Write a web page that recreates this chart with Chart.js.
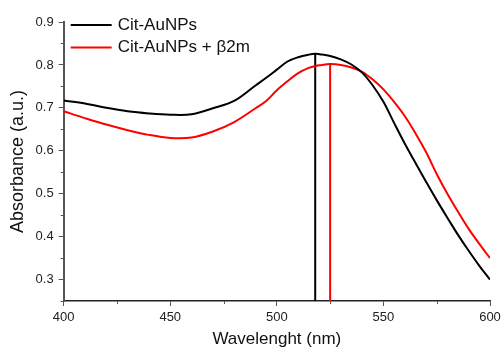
<!DOCTYPE html>
<html>
<head>
<meta charset="utf-8">
<script src="https://cdn.jsdelivr.net/npm/chart.js@4.4.1/dist/chart.umd.min.js"></script>
<style>
  html, body { margin: 0; padding: 0; background: #fff; }
  #wrap { position: relative; width: 502px; height: 350px; }
</style>
</head>
<body>
<div id="wrap"><canvas id="c" width="502" height="350"></canvas></div>
<script>
const wavelengths = [400,410,420,430,440,450,460,470,480,490,495,500,505,510,515,518,520,525,530,535,540,545,550,555,560,565,570,575,580,585,590,595,600];
const citAuNPs =    [0.717,0.710,0.700,0.692,0.687,0.684,0.685,0.699,0.716,0.752,0.770,0.789,0.808,0.818,0.824,0.826,0.825,0.821,0.813,0.801,0.782,0.752,0.714,0.665,0.617,0.572,0.528,0.485,0.444,0.404,0.367,0.332,0.300];
const citAuNPsB2m = [0.692,0.676,0.661,0.648,0.637,0.630,0.631,0.645,0.667,0.699,0.716,0.741,0.762,0.781,0.793,0.797,0.799,0.802,0.800,0.794,0.784,0.766,0.743,0.714,0.681,0.641,0.597,0.546,0.500,0.458,0.418,0.383,0.350];
const seriesLabels = ['Cit-AuNPs', 'Cit-AuNPs + \u03B22m'];
const peakWavelengths = [518, 525];
const peakValues = [0.826, 0.802];
const xTicks = [400,450,500,550,600];
const yTicks = [0.3,0.4,0.5,0.6,0.7,0.8,0.9];
const xMinor = [425,475,525,575];
const yMinor = [0.25,0.35,0.45,0.55,0.65,0.75,0.85];
const yMin = 0.25, yMax = 0.9;
const colors = ['#000000', '#ff0000'];

const FONT = '"Liberation Sans", Arial, sans-serif';

function toXY(xs, ys) { return xs.map((x, i) => ({x: x, y: ys[i]})); }

const datasets = [
  { label: seriesLabels[0], data: toXY(wavelengths, citAuNPs), borderColor: colors[0], borderWidth: 2, pointRadius: 0, tension: 0.35, fill: false },
  { label: seriesLabels[1], data: toXY(wavelengths, citAuNPsB2m), borderColor: colors[1], borderWidth: 2, pointRadius: 0, tension: 0.35, fill: false },
  { label: '_peak0', data: [{x: peakWavelengths[0], y: yMin}, {x: peakWavelengths[0], y: peakValues[0]}], borderColor: colors[0], borderWidth: 2, pointRadius: 0, fill: false },
  { label: '_peak1', data: [{x: peakWavelengths[1], y: yMin}, {x: peakWavelengths[1], y: peakValues[1]}], borderColor: colors[1], borderWidth: 2, pointRadius: 0, fill: false }
];

const minorTicks = {
  id: 'minorTicks',
  afterDraw(chart) {
    const ctx = chart.ctx;
    const xs = chart.scales.x, ys = chart.scales.y;
    ctx.save();
    ctx.strokeStyle = '#555';
    ctx.lineWidth = 1;
    xMinor.forEach(v => {
      const px = Math.round(xs.getPixelForValue(v)) + 0.5;
      ctx.beginPath(); ctx.moveTo(px, xs.top); ctx.lineTo(px, xs.top + 3); ctx.stroke();
    });
    yMinor.forEach(v => {
      const py = Math.round(ys.getPixelForValue(v)) + 0.5;
      ctx.beginPath(); ctx.moveTo(ys.right, py); ctx.lineTo(ys.right - 3, py); ctx.stroke();
    });
    ctx.restore();
  }
};

const innerLegend = {
  id: 'innerLegend',
  afterDraw(chart) {
    const ctx = chart.ctx;
    const area = chart.chartArea;
    ctx.save();
    ctx.font = '17px ' + FONT;
    ctx.textBaseline = 'middle';
    ctx.textAlign = 'left';
    [0, 1].forEach(i => {
      const ds = chart.data.datasets[i];
      const y = area.top + 3 + i * 22.5;
      const x0 = area.left + 7;
      ctx.strokeStyle = ds.borderColor;
      ctx.lineWidth = 2;
      ctx.beginPath(); ctx.moveTo(x0, y); ctx.lineTo(x0 + 41, y); ctx.stroke();
      ctx.fillStyle = '#111';
      ctx.fillText(ds.label, x0 + 47, y);
    });
    ctx.restore();
  }
};

new Chart(document.getElementById('c'), {
  type: 'line',
  data: { datasets: datasets },
  options: {
    responsive: false,
    animation: false,
    devicePixelRatio: 1,
    layout: { padding: { top: 22, right: 0, left: 7, bottom: 0 } },
    plugins: { legend: { display: false }, tooltip: { enabled: false } },
    scales: {
      x: {
        type: 'linear', min: 400, max: 600,
        afterBuildTicks: s => { s.ticks = xTicks.map(v => ({value: v})); },
        afterFit: s => { s.paddingRight = 12; s.paddingLeft = 0; },
        grid: { drawOnChartArea: false, drawTicks: true, tickLength: 5, color: '#555' },
        border: { display: true, color: '#222', width: 1.5 },
        ticks: { color: '#222', font: { family: FONT, size: 13 }, padding: 4, maxRotation: 0 },
        title: { display: true, text: 'Wavelenght (nm)', color: '#111', font: { family: FONT, size: 17 }, padding: { top: 0, bottom: 0 } }
      },
      y: {
        type: 'linear', min: yMin, max: yMax,
        afterBuildTicks: s => { s.ticks = yTicks.map(v => ({value: v})); },
        grid: { drawOnChartArea: false, drawTicks: true, tickLength: 5, color: '#555' },
        border: { display: true, color: '#555', width: 2 },
        ticks: { color: '#222', font: { family: FONT, size: 13 }, padding: 5, callback: v => v.toFixed(1) },
        title: { display: true, text: 'Absorbance (a.u.)', color: '#111', font: { family: FONT, size: 18 }, padding: { top: 0, bottom: 2 } }
      }
    }
  },
  plugins: [minorTicks, innerLegend]
});
</script>
</body>
</html>
